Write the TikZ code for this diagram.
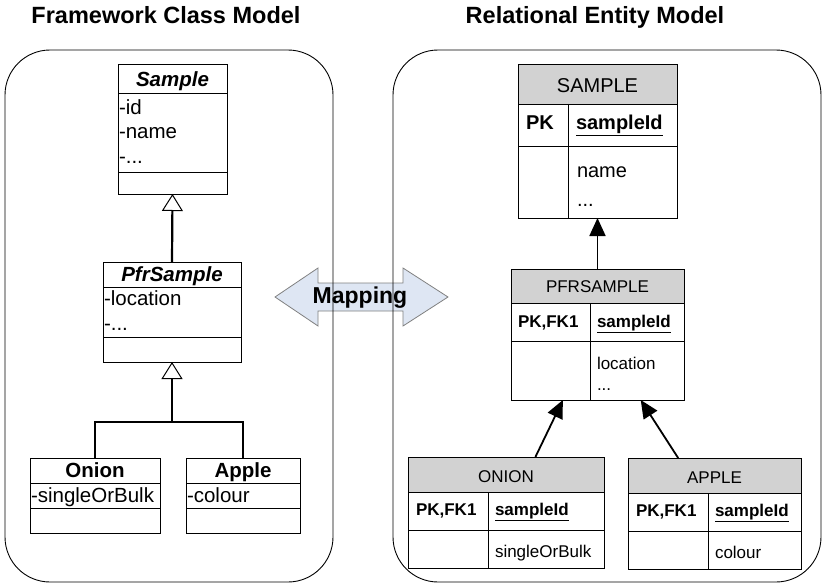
\documentclass[tikz,border=0pt]{standalone}
\usepackage{fontspec}
\setmainfont{Liberation Sans}
\usetikzlibrary{calc,arrows.meta}

\definecolor{mapblue}{RGB}{222,230,243}
\definecolor{hdrgray}{RGB}{210,210,210}

\def\titlefont{\fontsize{23.5}{27}\selectfont\bfseries}
\def\mapfont{\fontsize{23}{27}\selectfont\bfseries}
\def\clsfont{\fontsize{20.5}{24}\selectfont}
\def\bigfont{\fontsize{20}{24}\selectfont}
\def\entfont{\fontsize{17}{20}\selectfont}

\tikzset{
  panel/.style={draw, line width=0.9pt, rounded corners=45pt, inner sep=0pt, outer sep=0pt},
  box/.style={draw, line width=1pt, inner sep=0pt, outer sep=0pt, anchor=north west},
  txt/.style={inner sep=0pt, outer sep=0pt, anchor=base west},
  inh/.style={line width=2.2pt, -{Triangle[open, width=21pt, length=17pt, line width=1pt]}},
  fk/.style={line width=1.8pt, -{Triangle[width=16pt, length=18pt]}}
}

\begin{document}
\begin{tikzpicture}[x=1pt, y=-1pt]
        \useasboundingbox (0,0) rectangle (823,586);

        % 映射箭头
        \filldraw[draw=black!50, fill=mapblue, line width=0.8pt]
        (275,297) -- (318,268) -- (318,283) -- (403,283) -- (403,268) -- (448,297)
        -- (403,326) -- (403,311) -- (318,311) -- (318,326) -- cycle;
        \node[inner sep=0pt, anchor=base, font=\mapfont] (map) at (360,303) {Mapping};

        % 两个区域
        \node[panel, minimum width=328pt, minimum height=532pt] (left) at (169,316) {};
        \node[panel, minimum width=428pt, minimum height=532pt] (right) at (607,316) {};
        \node[inner sep=0pt, anchor=base, font=\titlefont] (ltitle) at (166,24) {Framework Class Model};
        \node[inner sep=0pt, anchor=base, font=\titlefont] (rtitle) at (595,24) {Relational Entity Model};

        % 类图
        \node[box, minimum width=109pt, minimum height=129pt] (sample) at (118,65) {};
        \draw (118,93) -- (227,93);
        \draw (118,172) -- (227,172);
        \node[txt, anchor=base, font=\clsfont\bfseries\itshape] (samplen) at (172.5,87) {Sample};
        \node[txt, font=\clsfont] (sid) at (119,114) {-id};
        \node[txt, font=\clsfont] (sname) at (119,139) {-name};
        \node[txt, font=\clsfont] (sdots) at (119,164) {-...};

        \node[box, minimum width=138pt, minimum height=100pt] (pfr) at (103,262) {};
        \draw (103,287) -- (241,287);
        \draw (103,337) -- (241,337);
        \node[txt, anchor=base, font=\clsfont\bfseries\itshape] (pfrn) at (172,281) {PfrSample};
        \node[txt, font=\clsfont] (ploc) at (104,305) {-location};
        \node[txt, font=\clsfont] (pdots) at (104,330) {-...};

        \node[box, minimum width=130pt, minimum height=75pt] (onion) at (30,458) {};
        \draw (30,483) -- (160,483);
        \draw (30,508) -- (160,508);
        \node[txt, anchor=base, font=\clsfont\bfseries] (onionn) at (95,477) {Onion};
        \node[txt, font=\clsfont] (osob) at (31,502) {-singleOrBulk};

        \node[box, minimum width=114pt, minimum height=75pt] (apple) at (186,458) {};
        \draw (186,483) -- (300,483);
        \draw (186,508) -- (300,508);
        \node[txt, anchor=base, font=\clsfont\bfseries] (applen) at (243,477) {Apple};
        \node[txt, font=\clsfont] (acol) at (187,502) {-colour};

        % 继承
        \coordinate (join) at (172,422);
        \draw[inh] (pfr.north) -- (sample.south);
        \draw[line width=2.2pt] (onion.north) |- (join) -| (apple.north);
        \draw[inh] (join) -- (pfr.south);

        % 实体
        \fill[hdrgray] (518,65) rectangle (677,104);
        \node[box, minimum width=159pt, minimum height=153pt] (sament) at (518,65) {};
        \draw (518,104) -- (677,104);
        \draw (518,146) -- (677,146);
        \draw (568,104) -- (568,218);
        \node[txt, anchor=base, font=\bigfont] (samentn) at (597.5,93) {SAMPLE};
        \node[txt, font=\bigfont\bfseries] (sampk) at (526,130) {PK};
        \node[txt, font=\bigfont\bfseries] (samid) at (576,130) {\underline{sampleId}};
        \node[txt, font=\bigfont] (samname) at (577,178) {name};
        \node[txt, font=\bigfont] (samdots) at (577,206) {...};

        \fill[hdrgray] (511,269) rectangle (684,303);
        \node[box, minimum width=173pt, minimum height=131pt] (pfrent) at (511,269) {};
        \draw (511,303) -- (684,303);
        \draw (511,341) -- (684,341);
        \draw (590,303) -- (590,400);
        \node[txt, anchor=base, font=\entfont] (pfrentn) at (597.5,292) {PFRSAMPLE};
        \node[txt, font=\entfont\bfseries] (pfrpk) at (518,327) {PK,FK1};
        \node[txt, font=\entfont\bfseries] (pfrid) at (597,327) {\underline{sampleId}};
        \node[txt, font=\entfont] (pfrloc) at (597,369) {location};
        \node[txt, font=\entfont] (pfrdots) at (597,390) {...};

        \fill[hdrgray] (408,457) rectangle (604,492);
        \node[box, minimum width=196pt, minimum height=111pt] (onionent) at (408,457) {};
        \draw (408,492) -- (604,492);
        \draw (408,530) -- (604,530);
        \draw (488,492) -- (488,568);
        \node[txt, anchor=base, font=\entfont] (onionentn) at (506,482) {ONION};
        \node[txt, font=\entfont\bfseries] (onionpk) at (416,515) {PK,FK1};
        \node[txt, font=\entfont\bfseries] (onionid) at (495,515) {\underline{sampleId}};
        \node[txt, font=\entfont] (onionsob) at (495,557) {singleOrBulk};

        \fill[hdrgray] (628,458) rectangle (801,493);
        \node[box, minimum width=173pt, minimum height=111pt] (appleent) at (628,458) {};
        \draw (628,493) -- (801,493);
        \draw (628,531) -- (801,531);
        \draw (708,493) -- (708,569);
        \node[txt, anchor=base, font=\entfont] (appleentn) at (714.5,483) {APPLE};
        \node[txt, font=\entfont\bfseries] (applepk) at (636,516) {PK,FK1};
        \node[txt, font=\entfont\bfseries] (appleid) at (715,516) {\underline{sampleId}};
        \node[txt, font=\entfont] (applecol) at (715,558) {colour};

        % 外键
        \draw[fk] (pfrent.north) -- (sament.south);
        \draw[fk] ($(onionent.north west)!0.65!(onionent.north east)$) -- ($(pfrent.south west)!0.30!(pfrent.south east)$);
        \draw[fk] ($(appleent.north west)!0.29!(appleent.north east)$) -- ($(pfrent.south west)!0.75!(pfrent.south east)$);

    \end{tikzpicture}
\end{document}
